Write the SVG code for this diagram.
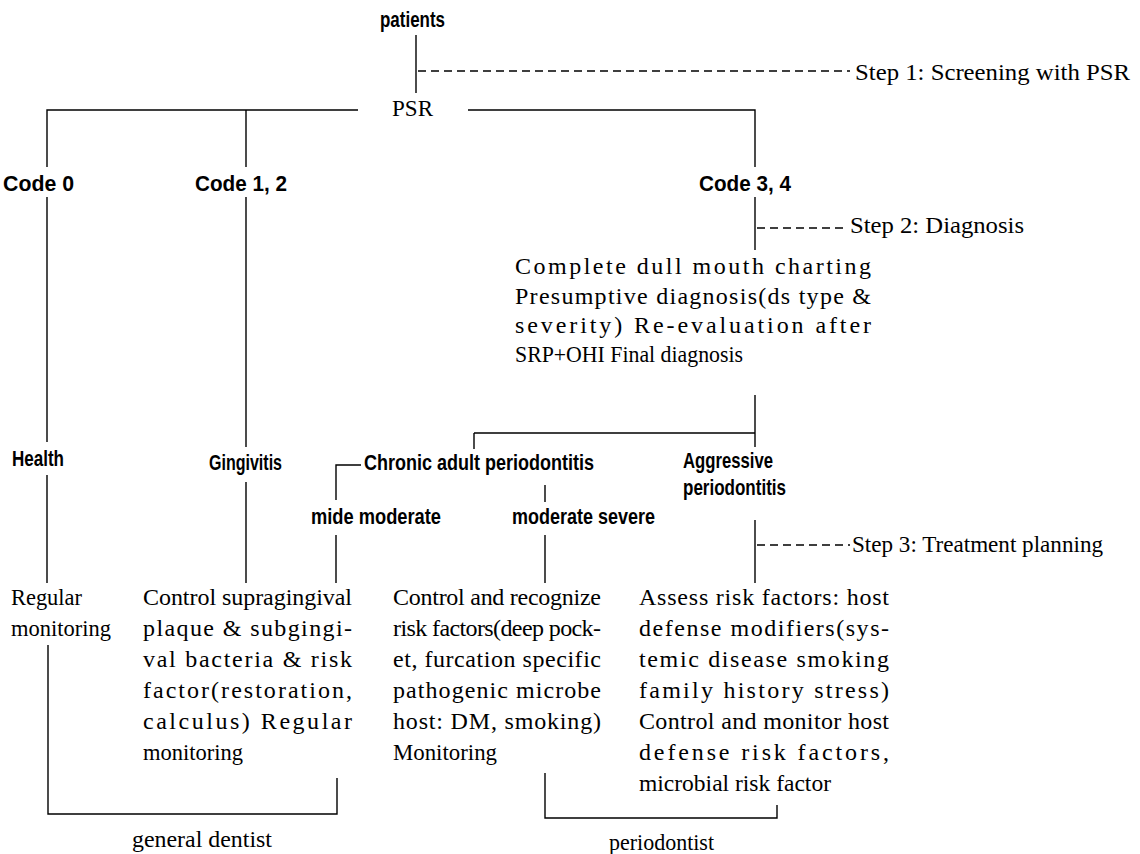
<svg xmlns="http://www.w3.org/2000/svg" width="1140" height="854" viewBox="0 0 1140 854">
<style>
.s{font-family:"Liberation Serif","Times New Roman",serif;font-size:24px;fill:#000}
.b{font-family:"Liberation Sans",Arial,sans-serif;font-size:22px;font-weight:bold;fill:#000}
.ln{stroke:#000;stroke-width:1.4;fill:none}
.dash{stroke:#000;stroke-width:1.5;fill:none;stroke-dasharray:8 5}
</style>
<rect width="1140" height="854" fill="#fff"/>
<g id="connectors">
<path class="ln" d="M416,35 V93"/>
<path class="dash" d="M418,71 H850"/>
<path class="ln" d="M47,167 V110 H358 M468,110 H755 V167 M246,110 V167"/>
<path class="ln" d="M47,197 V442 M47,475 V583"/>
<path class="ln" d="M246,197 V447 M246,482 V583"/>
<path class="ln" d="M755,197 V250"/>
<path class="dash" d="M757,228 H848"/>
<path class="ln" d="M755,395 V447 M474,433 H755 M474,433 V449"/>
<path class="ln" d="M361,465 H336 V500 M336,535 V583"/>
<path class="ln" d="M545,485 V502 M545,535 V583"/>
<path class="ln" d="M755,520 V583"/>
<path class="dash" d="M757,545 H850"/>
<path class="ln" d="M48,645 V814 H337 V778"/>
<path class="ln" d="M545,773 V818 H777 V805"/>
</g>
<g id="patients"><text class="b" x="380" y="27" textLength="65" lengthAdjust="spacingAndGlyphs">patients</text></g>
<g id="step1"><text class="s" x="855" y="80" textLength="275" lengthAdjust="spacingAndGlyphs">Step 1:  Screening with PSR</text></g>
<g id="psr"><text class="s" x="392" y="116" textLength="41" lengthAdjust="spacingAndGlyphs">PSR</text></g>
<g id="code0"><text class="b" x="3" y="191" textLength="71" lengthAdjust="spacingAndGlyphs">Code  0</text></g>
<g id="code12"><text class="b" x="195" y="191" textLength="92" lengthAdjust="spacingAndGlyphs">Code  1,  2</text></g>
<g id="code34"><text class="b" x="699" y="191" textLength="92" lengthAdjust="spacingAndGlyphs">Code  3,  4</text></g>
<g id="step2"><text class="s" x="850" y="233" textLength="174" lengthAdjust="spacingAndGlyphs">Step 2:  Diagnosis</text></g>
<g id="diagnosis" class="s">
<text x="515" y="274" textLength="356" lengthAdjust="spacing">Complete dull mouth charting</text>
<text x="515" y="304" textLength="356" lengthAdjust="spacing">Presumptive diagnosis(ds type &amp;</text>
<text x="515" y="333" textLength="356" lengthAdjust="spacing">severity) Re-evaluation after</text>
<text x="515" y="362" textLength="228" lengthAdjust="spacingAndGlyphs">SRP+OHI Final diagnosis</text>
</g>
<g id="health"><text class="b" x="12" y="466" textLength="52" lengthAdjust="spacingAndGlyphs">Health</text></g>
<g id="gingivitis"><text class="b" x="209" y="470" textLength="73" lengthAdjust="spacingAndGlyphs">Gingivitis</text></g>
<g id="chronic"><text class="b" x="364" y="470" textLength="230" lengthAdjust="spacingAndGlyphs">Chronic  adult  periodontitis</text></g>
<g id="aggressive"><text class="b" x="683" y="468" textLength="90" lengthAdjust="spacingAndGlyphs">Aggressive</text><text class="b" x="683" y="495" textLength="103" lengthAdjust="spacingAndGlyphs">periodontitis</text></g>
<g id="mild"><text class="b" x="311" y="524" textLength="130" lengthAdjust="spacingAndGlyphs">mide  moderate</text></g>
<g id="severe"><text class="b" x="512" y="524" textLength="143" lengthAdjust="spacingAndGlyphs">moderate  severe</text></g>
<g id="step3"><text class="s" x="852" y="552" textLength="251" lengthAdjust="spacingAndGlyphs">Step 3:  Treatment planning</text></g>
<g id="tx-health" class="s">
<text x="11" y="605" textLength="71" lengthAdjust="spacingAndGlyphs">Regular</text>
<text x="11" y="636" textLength="100" lengthAdjust="spacingAndGlyphs">monitoring</text>
</g>
<g id="tx-gingivitis" class="s">
<text x="143" y="605" textLength="209" lengthAdjust="spacing">Control supragingival</text>
<text x="143" y="636" textLength="209" lengthAdjust="spacing">plaque &amp; subgingi-</text>
<text x="143" y="667" textLength="209" lengthAdjust="spacing">val bacteria &amp; risk</text>
<text x="143" y="698" textLength="209" lengthAdjust="spacing">factor(restoration,</text>
<text x="143" y="729" textLength="209" lengthAdjust="spacing">calculus) Regular</text>
<text x="143" y="760" textLength="100" lengthAdjust="spacingAndGlyphs">monitoring</text>
</g>
<g id="tx-chronic" class="s">
<text x="393" y="605" textLength="208" lengthAdjust="spacing">Control and recognize</text>
<text x="393" y="636" textLength="208" lengthAdjust="spacing">risk factors(deep pock-</text>
<text x="393" y="667" textLength="208" lengthAdjust="spacing">et, furcation specific</text>
<text x="393" y="698" textLength="208" lengthAdjust="spacing">pathogenic microbe</text>
<text x="393" y="729" textLength="208" lengthAdjust="spacing">host: DM, smoking)</text>
<text x="393" y="760" textLength="104" lengthAdjust="spacingAndGlyphs">Monitoring</text>
</g>
<g id="tx-aggressive" class="s">
<text x="639" y="605" textLength="250" lengthAdjust="spacing">Assess risk factors: host</text>
<text x="639" y="636" textLength="250" lengthAdjust="spacing">defense modifiers(sys-</text>
<text x="639" y="667" textLength="250" lengthAdjust="spacing">temic disease smoking</text>
<text x="639" y="698" textLength="250" lengthAdjust="spacing">family history stress)</text>
<text x="639" y="729" textLength="250" lengthAdjust="spacing">Control and monitor host</text>
<text x="639" y="760" textLength="250" lengthAdjust="spacing">defense risk factors,</text>
<text x="639" y="791" textLength="192" lengthAdjust="spacingAndGlyphs">microbial risk factor</text>
</g>
<g id="general-dentist"><text class="s" x="132" y="847" textLength="140" lengthAdjust="spacingAndGlyphs">general dentist</text></g>
<g id="periodontist"><text class="s" x="609" y="850" textLength="105" lengthAdjust="spacingAndGlyphs">periodontist</text></g>
</svg>
